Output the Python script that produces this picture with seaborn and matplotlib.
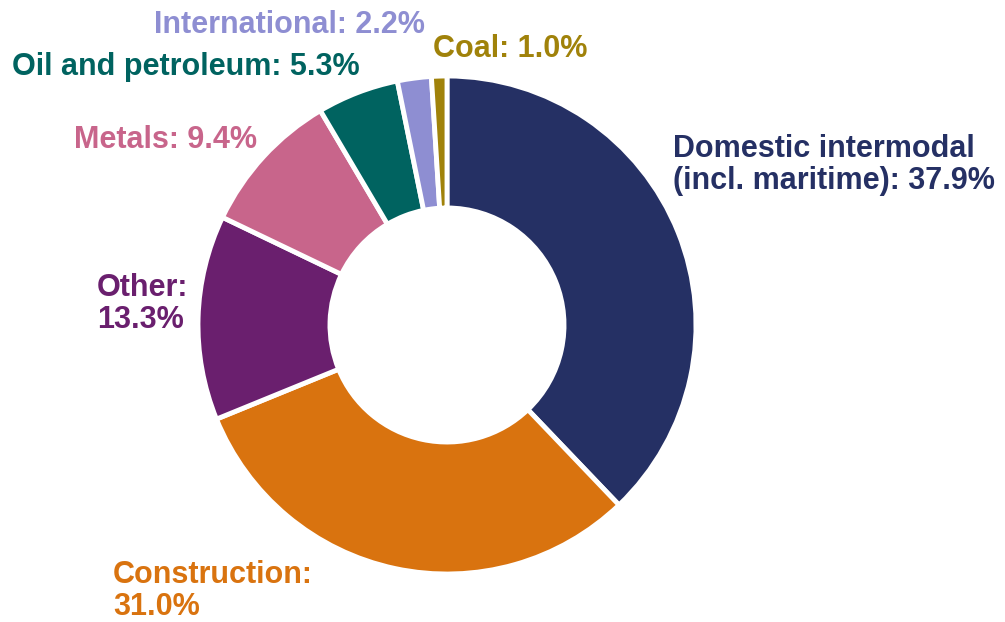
import matplotlib
matplotlib.use("Agg")
import matplotlib.pyplot as plt
import seaborn as sns

# share of freight by commodity group, clockwise from 12 o'clock
categories = ["Domestic intermodal\n(incl. maritime)", "Construction", "Other",
              "Metals", "Oil and petroleum", "International", "Coal"]
shares = [37.9, 31.0, 13.3, 9.4, 5.3, 2.2, 1.0]
colors = ["#253064", "#D9730F", "#6A1F6E", "#C8658B", "#006360", "#8E8ED2", "#A0820A"]
label_text = ["Domestic intermodal\n(incl. maritime): 37.9%", "Construction:\n31.0%",
              "Other:\n13.3%", "Metals: 9.4%", "Oil and petroleum: 5.3%",
              "International: 2.2%", "Coal: 1.0%"]

sns.set_theme(style="white")
plt.rcParams["font.family"] = ["Liberation Sans", "DejaVu Sans"]

W, H = 1005, 622
CX, CY, R = 447, 325, 249


def px(x, y):
    # image pixel -> data coords (pie radius 1 at CX, CY)
    return (x - CX) / R, (CY - y) / R


fig = plt.figure(figsize=(W / 100, H / 100), dpi=100)
ax = fig.add_axes([0, 0, 1, 1])
palette = sns.color_palette(colors)

ax.pie(shares, colors=palette, startangle=90, counterclock=False, radius=1,
       wedgeprops=dict(width=0.53, edgecolor="white", linewidth=3.5))
ax.set_xlim(px(0, 0)[0], px(W, 0)[0])
ax.set_ylim(px(0, H)[1], px(0, 0)[1])
ax.axis("off")

# label anchors in pixels (last-line baseline): (x, y, ha)
anchors = [
    (673, 189, "left"),
    (113, 615, "left"),
    (97, 328, "left"),
    (257, 148, "right"),
    (12, 75, "left"),
    (425, 33, "right"),
    (433, 57, "left"),
]
for txt, col, (x, y, ha) in zip(label_text, palette, anchors):
    tx, ty = px(x, y)
    ax.text(tx, ty, txt, color=col, ha=ha, va="baseline", fontsize=22,
            fontweight="bold", linespacing=1.1)

fig.savefig("out.png", dpi=100)
